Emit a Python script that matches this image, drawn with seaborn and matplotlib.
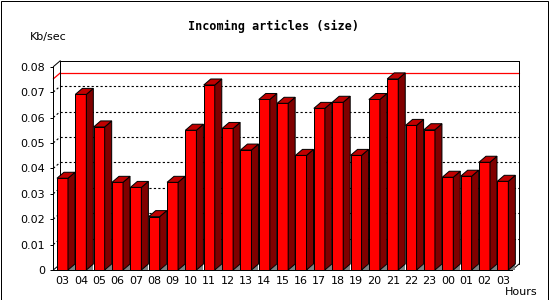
import numpy as np
import pandas as pd
import matplotlib
matplotlib.use("Agg")
import matplotlib.pyplot as plt
import matplotlib.transforms as mtransforms
from matplotlib.patches import Polygon, Rectangle
from matplotlib.lines import Line2D
import seaborn as sns

# ---- data ----
hours = ["03", "04", "05", "06", "07", "08", "09", "10", "11", "12", "13", "14",
         "15", "16", "17", "18", "19", "20", "21", "22", "23", "00", "01", "02", "03"]
kbps = [0.0361, 0.0691, 0.0563, 0.0345, 0.0325, 0.0210, 0.0345, 0.0550, 0.0728,
        0.0557, 0.0472, 0.0671, 0.0656, 0.0451, 0.0636, 0.0660, 0.0451, 0.0671,
        0.0752, 0.0569, 0.0552, 0.0365, 0.0369, 0.0424, 0.0349]
yticks = [0, 0.01, 0.02, 0.03, 0.04, 0.05, 0.06, 0.07, 0.08]
ytick_labels = ["0", "0.01", "0.02", "0.03", "0.04", "0.05", "0.06", "0.07", "0.08"]
title = "Incoming articles (size)"
ylabel = "Kb/sec"
xlabel = "Hours"

sns.set_style("white")
plt.rcParams["font.family"] = ["DejaVu Sans"]
plt.rcParams["text.color"] = "black"
plt.rcParams["xtick.color"] = "black"
plt.rcParams["ytick.color"] = "black"
plt.rcParams["xtick.labelcolor"] = "black"
plt.rcParams["ytick.labelcolor"] = "black"

W, H = 550, 300
DPI = 100
fig = plt.figure(figsize=(W / DPI, H / DPI), dpi=DPI)
fig.patch.set_facecolor("white")

x0, x1 = 53.3, 512.0
ybot, ytop = 270.0, 66.7
ax = fig.add_axes([x0 / W, (H - ybot) / H, (x1 - x0) / W, (ybot - ytop) / H])
ax.set_facecolor("none")

df = pd.DataFrame({"slot": list(range(len(kbps))), "kbps": kbps})
sns.barplot(data=df, x="slot", y="kbps", width=0.6, color="#ff0000",
            saturation=1, edgecolor="black", linewidth=0.72, ax=ax, zorder=2)

ax.set_xlim(-0.5, len(kbps) - 0.5)
ax.set_ylim(0, 0.08)
ax.set_xlabel("")
ax.set_ylabel("")

# ticks
ax.set_xticks(range(len(hours)))
ax.set_xticklabels(hours, fontsize=8, color="black")
ax.set_xticks(np.arange(-0.5, len(hours), 1.0), minor=True)
ax.tick_params(axis="x", which="major", length=0, pad=4.6)
ax.tick_params(axis="x", which="minor", length=3.6, width=0.72, color="black", direction="out")
ax.set_yticks(yticks)
ax.set_yticklabels(ytick_labels, fontsize=8, color="black")
ax.tick_params(axis="y", length=2.2, width=0.72, color="black", direction="out", pad=3.6, left=True)
ax.tick_params(axis="x", bottom=True)

for s in ["top", "right"]:
    ax.spines[s].set_visible(False)
for s in ["left", "bottom"]:
    ax.spines[s].set_visible(True)
    ax.spines[s].set_color("black")
    ax.spines[s].set_linewidth(0.72)

fig.canvas.draw()
DX, DY = 7.0, 6.0
ident = mtransforms.IdentityTransform()

def P(xd, yd, depth):
    px, py = ax.transData.transform((xd, yd))
    return (px + depth * DX, py + depth * DY)

def line(pa, pb, **kw):
    ax.add_line(Line2D([pa[0], pb[0]], [pa[1], pb[1]], transform=ident, clip_on=False, **kw))

xl, xr = -0.5, len(kbps) - 0.5
dot = dict(color="black", lw=0.8, linestyle=(0, (2, 2)), zorder=0.5)
for v in yticks[1:-1]:
    line(P(xl, v, 1), P(xr, v, 1), **dot)
    line(P(xl, v, 0), P(xl, v, 1), **dot)

m = max(kbps)
line(P(xl, m, 1), P(xr, m, 1), color="#ff0000", lw=0.9, zorder=0.6)
line(P(xl, m, 0), P(xl, m, 1), color="#ff0000", lw=0.9, zorder=0.6)

frame = dict(color="black", lw=0.72, zorder=0.7)
line(P(xl, 0.08, 1), P(xr, 0.08, 1), **frame)
line(P(xr, 0.08, 1), P(xr, 0, 1), **frame)
line(P(xl, 0.08, 1), P(xl, 0, 1), **frame)
line(P(xl, 0.08, 0), P(xl, 0.08, 1), **frame)
line(P(xl, 0, 0), P(xl, 0, 1), **frame)
line(P(xr, 0, 0), P(xr, 0, 1), **frame)

bars = list(ax.patches)
for b in bars:
    bl = b.get_x()
    br = b.get_x() + b.get_width()
    h = b.get_height()
    a = P(br, 0, 0)
    tri = [a, (a[0] + DX, a[1]), P(br, 0, 1)]
    ax.add_patch(Polygon(tri, closed=True, transform=ident, clip_on=False,
                         facecolor="#808080", edgecolor="none", zorder=2))
    side = [P(br, 0, 0), P(br, h, 0), P(br, h, 1), P(br, 0, 1)]
    ax.add_patch(Polygon(side, closed=True, transform=ident, clip_on=False,
                         facecolor="#800000", edgecolor="black", lw=0.72, zorder=2))
    top = [P(bl, h, 0), P(br, h, 0), P(br, h, 1), P(bl, h, 1)]
    ax.add_patch(Polygon(top, closed=True, transform=ident, clip_on=False,
                         facecolor="#c00000", edgecolor="black", lw=0.72, zorder=2))

fig.text(274 / W, 1 - 26 / H, title, ha="center", va="center", color="black",
         fontsize=8.5, fontweight="bold", family=["DejaVu Sans Mono"])
fig.text(30 / W, 1 - 37 / H, ylabel, ha="left", va="center", fontsize=8, color="black")
fig.text(505 / W, 1 - 292 / H, xlabel, ha="left", va="center", fontsize=8, color="black")

fig.add_artist(Rectangle((0.5, 0.5), W - 2.5, H - 1.0, transform=ident,
                         fill=False, edgecolor="black", lw=0.72))

fig.savefig("out.png", dpi=DPI, facecolor="white")
